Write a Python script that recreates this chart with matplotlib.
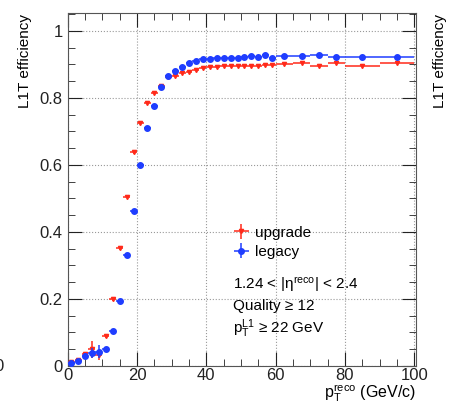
import numpy as np
import matplotlib
matplotlib.use('Agg')
import matplotlib.pyplot as plt
from matplotlib.ticker import MultipleLocator

# bin centres and half-widths (GeV/c)
bin_x = [1, 3, 5, 7, 9, 11, 13, 15, 17, 19, 21, 23, 25, 27, 29, 31, 33, 35, 37, 39,
         41, 43, 45, 47, 49, 51, 53, 55, 57, 59, 62.5, 67.5, 72.5, 77.5, 85, 95]
bin_hw = [1] * 30 + [2.5, 2.5, 2.5, 2.5, 5, 5]

# efficiencies
upgrade = [0.013, 0.018, 0.035, 0.050, 0.033, 0.090, 0.200, 0.351, 0.505, 0.637,
           0.726, 0.786, 0.815, 0.835, 0.863, 0.866, 0.873, 0.876, 0.883, 0.888,
           0.891, 0.893, 0.894, 0.895, 0.895, 0.895, 0.896, 0.896, 0.897, 0.898,
           0.900, 0.903, 0.895, 0.903, 0.895, 0.903]
legacy = [0.010, 0.016, 0.030, 0.040, 0.043, 0.050, 0.105, 0.194, 0.331, 0.463,
          0.599, 0.709, 0.775, 0.831, 0.865, 0.881, 0.893, 0.903, 0.911, 0.916,
          0.917, 0.919, 0.920, 0.920, 0.920, 0.921, 0.924, 0.921, 0.927, 0.918,
          0.924, 0.924, 0.927, 0.922, 0.922, 0.922]
upgrade_err = [0.004, 0.005, 0.008, 0.025, 0.015, 0.006, 0.005, 0.004, 0.004, 0.004] + [0.003] * 26
legacy_err = [0.004, 0.005, 0.008, 0.015, 0.020, 0.006, 0.005, 0.004, 0.004, 0.004] + [0.003] * 26

red = '#ff2a1a'
blue = '#1f3dff'

plt.rcParams['font.family'] = ['Liberation Sans', 'DejaVu Sans']
plt.rcParams['mathtext.fontset'] = 'custom'
plt.rcParams['mathtext.rm'] = 'Liberation Sans'
plt.rcParams['mathtext.it'] = 'Liberation Sans'

fig = plt.figure(figsize=(4.62, 4.04), dpi=100)
ax = fig.add_axes([0.1465, 0.094, 0.7540, 0.873])

hu = ax.errorbar(bin_x, upgrade, xerr=bin_hw, yerr=upgrade_err, fmt='v', color=red,
                 markersize=3, elinewidth=1.1, capsize=0, label='upgrade', zorder=3)
hl = ax.errorbar(bin_x, legacy, xerr=bin_hw, yerr=legacy_err, fmt='o', color=blue,
                 markersize=4, elinewidth=1.1, capsize=0, label='legacy', zorder=4)

ax.set_xlim(0, 100.5)
ax.set_ylim(0, 1.052)
ax.xaxis.set_major_locator(MultipleLocator(20))
ax.xaxis.set_minor_locator(MultipleLocator(5))
ax.yaxis.set_minor_locator(MultipleLocator(0.05))
ax.set_yticks([0, 0.2, 0.4, 0.6, 0.8, 1.0])
ax.set_yticklabels(['0', '0.2', '0.4', '0.6', '0.8', '1'])
ax.tick_params(which='both', direction='in', top=True, right=True, labelsize=12, colors='#222222')
ax.tick_params(which='major', length=10)
ax.tick_params(which='minor', length=5)
ax.tick_params(axis='x', pad=1.5)
ax.grid(True, which='major', linestyle=':', color='#999999', linewidth=0.8)
for s in ax.spines.values():
    s.set_color('#555555')

ax.set_xlabel(r'$\mathrm{p}_{\mathrm{T}}^{\mathrm{reco}}$ (GeV/c)', fontsize=11.5, loc='right', labelpad=-0.5)
fig.text(0.055, 0.965, 'L1T efficiency', rotation=90, ha='center', va='top', fontsize=11)

leg = ax.legend(handles=[hu, hl], loc='upper left', bbox_to_anchor=(0.45, 0.415),
                frameon=False, fontsize=11, handlelength=1.4, handletextpad=0.2,
                borderaxespad=0, labelspacing=0.35)

ax.text(0.475, 0.218, r'1.24 < |$\eta^{\mathrm{reco}}$| < 2.4', transform=ax.transAxes, fontsize=11)
ax.text(0.475, 0.158, 'Quality ≥ 12', transform=ax.transAxes, fontsize=11)
ax.text(0.475, 0.094, r'$\mathrm{p}_{\mathrm{T}}^{\mathrm{L1}}$ ≥ 22 GeV', transform=ax.transAxes, fontsize=11)

# pieces of the neighbouring panels
fig.text(0.952, 0.965, 'L1T efficiency', rotation=90, ha='center', va='top', fontsize=11)
fig.text(-0.012, 0.094, '0', ha='left', va='center', fontsize=12, color='#222222')

fig.savefig('out.png', dpi=100)
